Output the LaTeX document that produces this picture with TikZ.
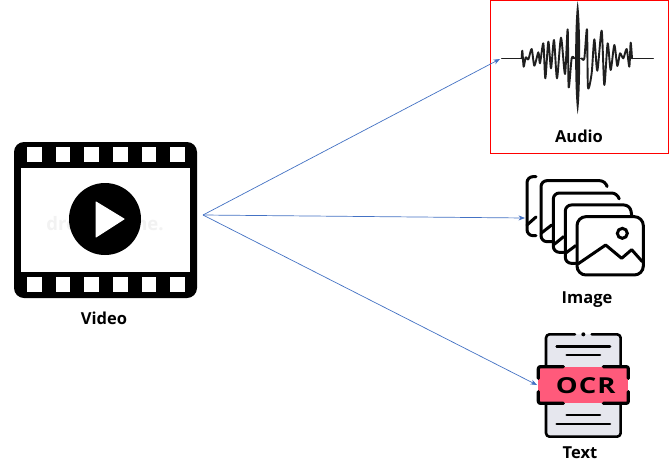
\documentclass[tikz,border=0pt]{standalone}
\usepackage{fontspec}
\setmainfont{Open Sans}
\usetikzlibrary{arrows.meta}
\definecolor{arrowblue}{HTML}{4472C4}
\definecolor{pagegrey}{HTML}{E6E7EE}
\definecolor{ocrpink}{HTML}{FF5A7B}
\tikzset{
  label text/.style={font=\fontsize{16.5}{18}\selectfont\bfseries, text=black, inner sep=0pt},
  connector/.style={draw=arrowblue, line width=0.7pt, -{Stealth[length=6.5pt,width=5pt]}},
  hole/.style={fill=white, draw=none},
  stackline/.style={draw=black, line width=3pt, line cap=round, line join=round, rounded corners=6pt},
  ocrline/.style={draw=black, line width=2.6pt, line cap=round, line join=round, rounded corners=3.5pt},
  bracket/.style={draw=black, line width=3.2pt, line cap=round, line join=round, rounded corners=2pt},
  wave/.style={draw=black!88, line join=round, line cap=round},
}
\begin{document}
\begin{tikzpicture}[x=1pt,y=-1pt]
\useasboundingbox (0,0) rectangle (669,474);
\fill[white] (0,0) rectangle (669,474);

% Video icon
\fill[black, rounded corners=10pt] (14,142) rectangle (197,298);
\fill[white] (21,168) rectangle (190,272);
\foreach \x in {27,55.5,84,113,141.5,170} {
  \fill[hole] (\x,147) rectangle +(14.5,14.5);
  \fill[hole] (\x,277) rectangle +(14.5,14.5);
}
\node[text=black!5, font=\fontsize{18.5}{20}\selectfont\bfseries, inner sep=0pt] (watermark) at (105,224) {dreamstime.};
\fill[black] (105,219) circle (36);
\fill[white, draw=white, line width=1pt, line join=round] (96,202) -- (124,219) -- (96,237) -- cycle;
\node[label text] (videolabel) at (104,318) {Video};

% Audio frame
\draw[red, line width=1pt] (490.5,0.5) rectangle (668,153.5);
\begin{scope}[shift={(485,0)}, x=0.3333pt, y=-0.3333pt]
  \draw[wave, line width=1pt] (50,175) -- (112,175);
  \draw[wave, line width=1pt] (440,175) -- (505,175);
  \draw[wave, line width=1.9pt] plot[smooth, tension=0.45] coordinates {(110,175) (112,152) (116,200) (122,172) (130,178) (140,147) (148,197) (160,157) (165,190) (175,130) (181,235) (190,125) (198,205) (207,120) (216,235) (228,113) (240,222) (248,88) (251,262) (260,175) (268,175)};
  \draw[wave, line width=1.9pt] plot[smooth, tension=0.45] coordinates {(290,175) (298,175) (306,88) (309,262) (320,220) (328,118) (337,212) (350,92) (358,255) (368,130) (377,210) (388,135) (397,198) (405,160) (415,175) (425,147) (433,200) (437,128) (441,175)};
  \fill[black!88] (278,3) .. controls (288,60) and (288,280) .. (278,343) .. controls (268,280) and (268,60) .. (278,3) -- cycle;
  \draw[wave, line width=1pt] (262,175) -- (294,175);
\end{scope}
\node[label text] (audiolabel) at (579,136) {Audio};

% Image stack
\begin{scope}[shift={(515,165)}, x=0.3333pt, y=-0.3333pt]
  \draw[stackline] (63,35) -- (36,35) -- (36,212) -- (63,212);
  \draw[stackline, rounded corners=0pt] (36,180) -- (63,156);
  \draw[stackline] (275,60) -- (272,47) -- (78,47) -- (78,230) -- (110,230);
  \draw[stackline, rounded corners=0pt] (78,205) -- (110,180);
  \draw[stackline] (312,100) -- (308,84) -- (115,84) -- (115,262) -- (146,262);
  \draw[stackline, rounded corners=0pt] (115,240) -- (146,215);
  \draw[stackline] (350,150) -- (345,120) -- (151,120) -- (151,295) -- (182,295);
  \draw[stackline, rounded corners=0pt] (151,265) -- (182,242);
  \draw[stackline, fill=white, rounded corners=9pt] (186,155) rectangle (385,330);
  \draw[stackline, rounded corners=0pt] (190,296) -- (272,240) -- (320,280) -- (350,254) -- (382,290);
  \draw[draw=black, line width=3pt] (322,205) circle (15);
\end{scope}
\node[label text] (imagelabel) at (587,300) {Image};

% OCR document
\begin{scope}[shift={(520,325)}, x=0.3333pt, y=-0.3333pt]
  \fill[pagegrey, rounded corners=3.5pt] (78,28) rectangle (302,335);
  \fill[ocrpink] (55,125) rectangle (325,235);
  \draw[ocrline] (165,28) -- (78,28) -- (78,125);
  \draw[ocrline] (215,28) -- (302,28) -- (302,125);
  \draw[ocrline] (78,235) -- (78,335) -- (302,335) -- (302,235);
  \fill[black] (190,28) circle (6);
  \draw[ocrline] (110,65) -- (270,65);
  \draw[ocrline] (140,90) -- (240,90);
  \draw[ocrline] (140,270) -- (240,270);
  \draw[ocrline] (110,297) -- (270,297);
  \draw[bracket] (130,125) -- (55,125) -- (55,160);
  \draw[bracket] (55,200) -- (55,235) -- (130,235);
  \draw[bracket] (250,125) -- (325,125) -- (325,160);
  \draw[bracket] (325,200) -- (325,235) -- (250,235);
  \node[font=\fontsize{22}{24}\selectfont\bfseries, inner sep=0pt, text=black, xscale=1.25, transform shape] (ocrtext) at (197,182) {O\kern0.8pt C\kern0.8pt R};
\end{scope}
\node[label text] (textlabel) at (580,453) {Text};

% Connectors
\coordinate (hub) at (203,215);
\coordinate (audioin) at (500,59);
\coordinate (imagein) at (525,218);
\coordinate (textin) at (537,385);
\draw[connector] (hub) -- (audioin);
\draw[connector] (hub) -- (imagein);
\draw[connector] (hub) -- (textin);
\end{tikzpicture}
\end{document}
